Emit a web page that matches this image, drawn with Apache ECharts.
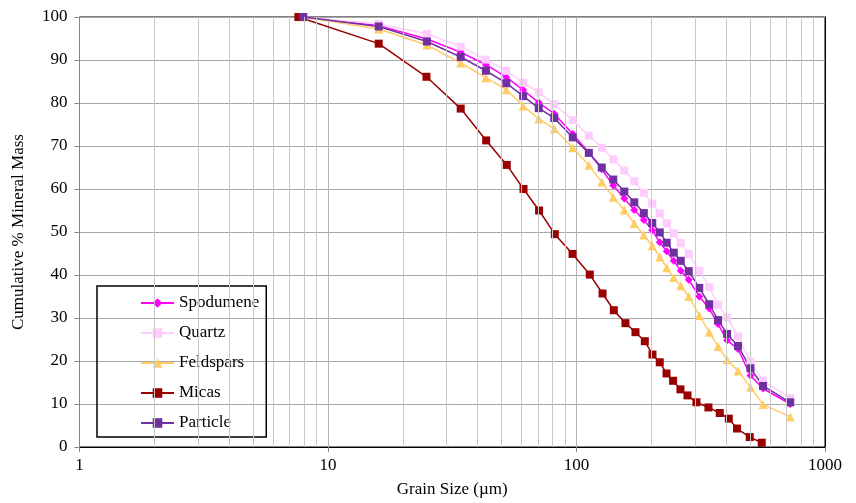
<!DOCTYPE html>
<html>
<head>
<meta charset="utf-8">
<script src="https://cdn.jsdelivr.net/npm/echarts@6/dist/echarts.min.js"></script>
<style>html,body{margin:0;padding:0;background:#fff}#c{width:856px;height:503px}</style>
</head>
<body>
<div id="c"></div>
<script>
// Grain sizes (µm) for Spodumene, Quartz, Feldspars, Particle
var sizes = [7.95, 16.0, 25.0, 34.2, 43.2, 52.2, 61.0, 70.5, 81.4, 96.6, 112.1, 126.4, 140.6, 155.7, 170.8, 186.6, 201.8, 216.3, 230.8, 246.3, 262.7, 282.9, 311.9, 342.1, 371.2, 403.6, 446.7, 501.2, 563.2, 724.4];
var spodumene = [100, 98.0, 94.9, 91.8, 88.9, 86.0, 83.0, 80.1, 77.5, 72.8, 68.5, 64.6, 60.8, 57.8, 55.1, 52.8, 50.4, 47.6, 45.5, 43.3, 41.0, 38.9, 35.0, 32.2, 28.6, 24.8, 22.8, 16.6, 13.6, 10.0];
var quartz = [100, 98.4, 96.1, 93.1, 90.1, 87.5, 84.7, 82.5, 79.7, 76.0, 72.4, 69.6, 66.9, 64.3, 61.8, 59.1, 56.6, 54.3, 52.0, 49.7, 47.4, 44.9, 41.0, 37.2, 33.1, 30.1, 25.7, 19.8, 15.4, 11.4];
var feldspars = [100, 97.2, 93.5, 89.3, 85.9, 83.1, 79.3, 76.3, 74.0, 69.6, 65.5, 61.6, 58.1, 55.1, 52.0, 49.3, 46.8, 44.2, 41.7, 39.4, 37.5, 35.0, 30.6, 26.7, 23.4, 20.3, 17.7, 13.9, 9.9, 7.0];
var particle = [100, 97.8, 94.3, 90.7, 87.5, 84.6, 81.6, 78.8, 76.5, 72.0, 68.4, 65.0, 62.2, 59.4, 56.9, 54.4, 52.1, 49.9, 47.5, 45.2, 43.3, 40.9, 37.0, 33.2, 29.5, 26.3, 23.5, 18.3, 14.2, 10.4];
// Micas has its own size list
var micasSizes = [7.6, 16.0, 24.9, 34.2, 43.3, 52.4, 61.2, 70.7, 81.8, 96.4, 113.1, 127.3, 141.3, 157.4, 172.7, 188.3, 202.2, 216.3, 230.2, 244.7, 262.0, 279.6, 303.9, 339.6, 377.1, 410.0, 442.6, 497.8, 556.5];
var micas = [100, 93.8, 86.1, 78.7, 71.3, 65.6, 60.0, 55.0, 49.5, 44.9, 40.1, 35.7, 31.8, 28.8, 26.7, 24.6, 21.5, 19.7, 17.1, 15.4, 13.4, 12.0, 10.4, 9.2, 7.9, 6.6, 4.3, 2.3, 1.0];
// Minor vertical gridline positions on the log axis
var minorGrid = [2,3,4,5,6,7,8,9,20,30,40,50,60,70,80,90,200,300,400,500,600,700,800,900];

function pairs(xs, ys){ return ys.map(function(v,i){ return [xs[i], v]; }); }

var FONT = '"Liberation Serif", "Times New Roman", serif';
var chart = echarts.init(document.getElementById('c'), null, {renderer:'canvas'});

function mk(name, xs, ys, color, symbol, size){
  return {
    name: name, type: 'line', data: pairs(xs, ys),
    symbol: symbol, symbolSize: size, showSymbol: true,
    lineStyle: {color: color, width: 1.5},
    itemStyle: {color: color},
    animation: false, z: 3
  };
}

var option = {
  animation: false,
  backgroundColor: '#fff',
  grid: {left: 79.5, right: 31, top: 17, bottom: 52, show: true, borderColor: '#000', borderWidth: 1},
  legend: {
    orient: 'vertical', left: 97, top: 286,
    itemWidth: 33, itemHeight: 12, itemGap: 12,
    padding: [8, 7, 5, 43],
    borderColor: '#000', borderWidth: 1.5,
    textStyle: {fontFamily: FONT, fontSize: 17, color: '#000', lineHeight: 18},
    data: ['Spodumene','Quartz','Feldspars','Micas','Particle']
  },
  xAxis: [{
    type: 'log', logBase: 10, min: 1, max: 1000,
    name: 'Grain Size (µm)', nameLocation: 'middle', nameGap: 34,
    nameTextStyle: {fontFamily: FONT, fontSize: 17, color: '#000'},
    axisLine: {show: true, lineStyle: {color: '#868686', width: 1}},
    axisTick: {show: true, length: 5, lineStyle: {color: '#868686'}},
    axisLabel: {fontFamily: FONT, fontSize: 17, color: '#000', margin: 10,
      formatter: function(v){ return String(Math.round(v)); }},
    splitLine: {show: true, lineStyle: {color: '#B4B4B4', width: 1}},
    minorTick: {show: false}, minorSplitLine: {show: false}
  }, {
    type: 'log', logBase: 10, min: 1, max: 1000, position: 'top',
    axisLine: {show: true, lineStyle: {color: '#000', width: 1}},
    axisTick: {show: false}, axisLabel: {show: false}, splitLine: {show: false}
  }],
  yAxis: [{
    type: 'value', min: 0, max: 100, interval: 10,
    name: 'Cumulative % Mineral Mass', nameLocation: 'middle', nameGap: 52,
    nameTextStyle: {fontFamily: FONT, fontSize: 17, color: '#000'},
    axisLine: {show: true, lineStyle: {color: '#868686', width: 1}},
    axisTick: {show: true, length: 5, lineStyle: {color: '#868686'}},
    axisLabel: {fontFamily: FONT, fontSize: 17, color: '#000', margin: 12},
    splitLine: {show: true, lineStyle: {color: '#A8A8A8', width: 1}}
  }, {
    type: 'value', min: 0, max: 100, interval: 10, position: 'right',
    axisLine: {show: true, lineStyle: {color: '#000', width: 1}},
    axisTick: {show: false}, axisLabel: {show: false}, splitLine: {show: false}
  }],
  series: [
    {
      name: '_grid', type: 'line', data: [], silent: true, z: 1,
      markLine: {
        silent: true, symbol: 'none', animation: false,
        label: {show: false},
        lineStyle: {color: '#C8C8C8', width: 1, type: 'solid'},
        data: minorGrid.map(function(v){ return {xAxis: v}; })
      }
    },
    mk('Spodumene', sizes, spodumene, '#FF00FF', 'diamond', 8),
    mk('Quartz', sizes, quartz, '#FFCCFF', 'rect', 8),
    mk('Feldspars', sizes, feldspars, '#FFCC66', 'triangle', 9),
    mk('Micas', micasSizes, micas, '#990000', 'rect', 8),
    mk('Particle', sizes, particle, '#7030A0', 'rect', 8)
  ]
};
chart.setOption(option);
</script>
</body>
</html>
